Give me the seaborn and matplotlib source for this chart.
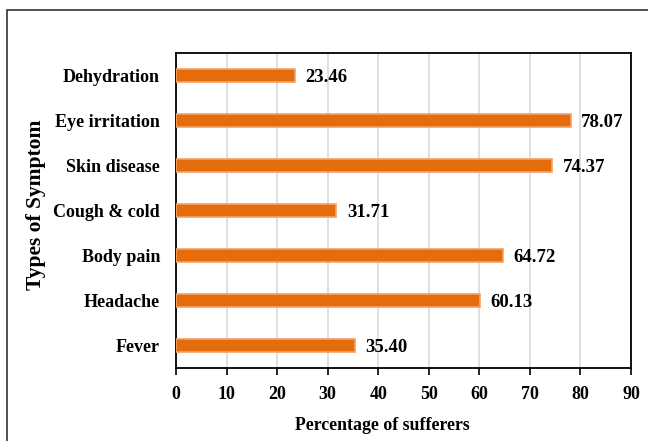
import matplotlib
matplotlib.use("Agg")
import matplotlib.pyplot as plt
import seaborn as sns
import pandas as pd
from matplotlib.patches import Rectangle

symptoms = ["Dehydration", "Eye irritation", "Skin disease", "Cough & cold",
            "Body pain", "Headache", "Fever"]
percentages = [23.46, 78.07, 74.37, 31.71, 64.72, 60.13, 35.40]
x_ticks = [0, 10, 20, 30, 40, 50, 60, 70, 80, 90]

df = pd.DataFrame({"Symptom": symptoms, "Percentage": percentages})

sns.set_theme(style="white")
plt.rcParams["font.family"] = ["Liberation Serif", "DejaVu Serif"]
plt.rcParams["font.weight"] = "bold"

fig = plt.figure(figsize=(6.48, 4.41), dpi=100)
ax = fig.add_axes([0.2716, 0.1655, 0.7022, 0.7143])

sns.barplot(data=df, x="Percentage", y="Symptom", orient="h", ax=ax,
            color="#E46C0A", width=0.27, edgecolor="#F4A16A", linewidth=1.2,
            saturation=1, zorder=3)

ax.set_xlim(0, 90)
ax.set_ylim(6.5, -0.5)
ax.set_xticks(x_ticks)
ax.set_xticklabels([str(t) for t in x_ticks])
ax.xaxis.grid(True, color="#D9D9D9", linewidth=1.2, zorder=0)
ax.set_axisbelow(True)

for s in ax.spines.values():
    s.set_visible(True)
    s.set_color("black")
    s.set_linewidth(1.3)

ax.tick_params(axis="x", which="both", bottom=True, length=5, width=1.2,
               color="black", labelsize=13, pad=8)
ax.tick_params(axis="y", left=False, labelsize=13, pad=5.5)
for lab in ax.get_xticklabels() + ax.get_yticklabels():
    lab.set_fontweight("bold")
    lab.set_color("black")

for i, v in enumerate(percentages):
    ax.text(v + 2.1, i + 0.04, f"{v:.2f}", va="center", ha="left",
            fontsize=13.5, fontweight="bold", color="black")

ax.set_xlabel("Percentage of sufferers", fontsize=12.8, fontweight="bold",
              color="black")
ax.set_ylabel("Types of Symptom", fontsize=15.5, fontweight="bold",
              color="black")
ax.xaxis.set_label_coords(0.453, -0.154)
ax.yaxis.set_label_coords(-0.285, 0.517)

# outer frame around the chart area
fig.patches.append(Rectangle((7 / 648, -0.1), 1.2, 0.1 + 1 - 10 / 441,
                             transform=fig.transFigure, fill=False,
                             edgecolor="#222222", linewidth=1.1))

fig.savefig("out.png", dpi=100)
